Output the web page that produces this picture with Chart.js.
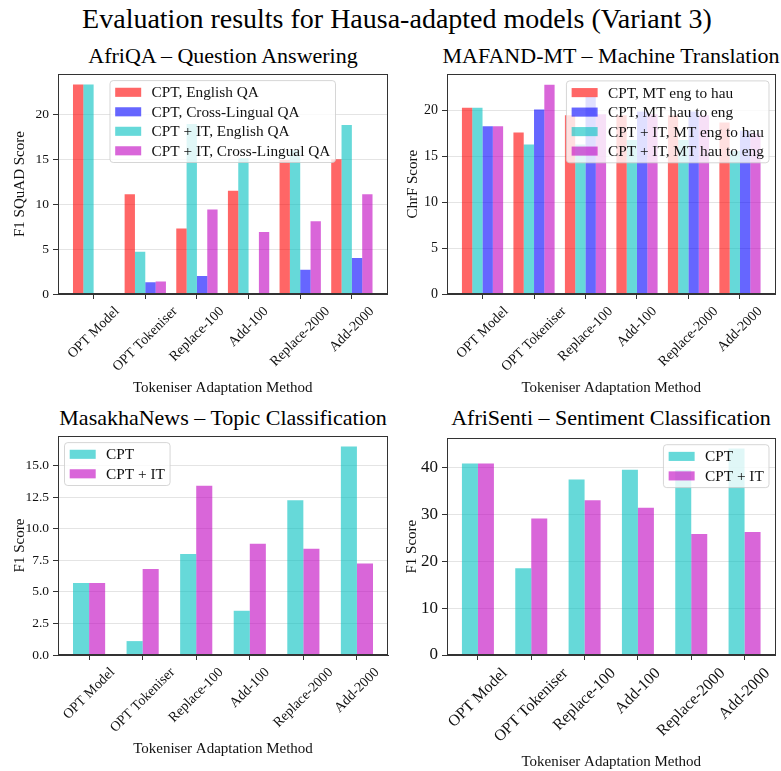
<!DOCTYPE html>
<html>
<head>
<meta charset="utf-8">
<script src="https://cdn.jsdelivr.net/npm/chart.js@4.4.1/dist/chart.umd.min.js"></script>
<style>
  html, body { margin: 0; padding: 0; background: #fff; }
  #fig { position: relative; width: 781px; height: 771px; overflow: hidden;
         font-family: 'Liberation Serif', 'Times New Roman', serif; color: #000; }
  #fig canvas { position: absolute; }
  .ttl { position: absolute; white-space: nowrap; line-height: 1;
         transform: translate(-50%, -50%); }
</style>
</head>
<body>
<div id="fig">
  <div class="ttl" style="left:397px; top:19px; font-size:28px;">Evaluation results for Hausa-adapted models (Variant 3)</div>
  <div class="ttl" style="left:223px; top:56px; font-size:22px;">AfriQA – Question Answering</div>
  <div class="ttl" style="left:611px; top:56px; font-size:22px;">MAFAND-MT – Machine Translation</div>
  <div class="ttl" style="left:223px; top:418px; font-size:22px;">MasakhaNews – Topic Classification</div>
  <div class="ttl" style="left:611px; top:418px; font-size:22px;">AfriSenti – Sentiment Classification</div>
  <canvas id="qa"    width="390" height="340" style="left:0px;   top:62px;"></canvas>
  <canvas id="mt"    width="391" height="340" style="left:390px; top:62px;"></canvas>
  <canvas id="news"  width="390" height="347" style="left:0px;   top:424px;"></canvas>
  <canvas id="senti" width="391" height="347" style="left:390px; top:424px;"></canvas>
</div>
<script>
// Tokeniser adaptation methods (x categories shared by all panels)
const methods = ['OPT Model', 'OPT Tokeniser', 'Replace-100', 'Add-100', 'Replace-2000', 'Add-2000'];

// AfriQA – F1 SQuAD score
const qaCptEnglish = [23.3, 11.1, 7.3, 11.5, 14.9, 15.0];
const qaCptCross   = [0.1, 1.3, 2.0, 0.1, 2.7, 4.0];
const qaItEnglish  = [23.3, 4.7, 18.9, 15.1, 16.0, 18.8];
const qaItCross    = [0.1, 1.4, 9.4, 6.9, 8.1, 11.1];

// MAFAND-MT – ChrF score
const mtCptEngHau = [20.3, 17.6, 19.5, 19.5, 19.5, 18.7];
const mtCptHauEng = [18.3, 20.1, 21.5, 19.9, 19.9, 17.8];
const mtItEngHau  = [20.3, 16.3, 16.3, 16.8, 16.8, 15.6];
const mtItHauEng  = [18.3, 22.8, 19.6, 19.6, 19.5, 17.5];

// MasakhaNews – F1 score
const newsCpt = [5.7, 1.1, 8.0, 3.5, 12.25, 16.5];
const newsIt  = [5.7, 6.8, 13.4, 8.8, 8.4, 7.25];

// AfriSenti – F1 score
const sentiCpt = [40.8, 18.5, 37.4, 39.5, 39.4, 44.0];
const sentiIt  = [40.8, 29.1, 33.0, 31.4, 25.8, 26.2];

// y tick values per panel
const qaTicks    = [0, 5, 10, 15, 20];
const mtTicks    = [0, 5, 10, 15, 20];
const newsTicks  = [0, 2.5, 5, 7.5, 10, 12.5, 15];
const sentiTicks = [0, 10, 20, 30, 40];

const RED = 'rgba(255,0,0,0.6)', BLUE = 'rgba(0,0,255,0.6)',
      CYAN = 'rgba(0,191,191,0.6)', MAGENTA = 'rgba(191,0,191,0.6)';
const FONT = "'Liberation Serif', 'Times New Roman', serif";
const INK = '#111';
const SPINE = '#333';

Chart.defaults.font.family = FONT;
Chart.defaults.color = INK;

// Box around the plotting area, drawn over the bars
const frame = {
  id: 'frame',
  afterDatasetsDraw(chart) {
    const a = chart.chartArea, ctx = chart.ctx;
    ctx.save();
    ctx.strokeStyle = SPINE; ctx.lineWidth = 1;
    const l = Math.round(a.left) + 0.5, t = Math.round(a.top) + 0.5;
    const r = Math.round(a.right) - 0.5, b = Math.round(a.bottom) - 0.5;
    ctx.strokeRect(l, t, r - l, b - t);
    ctx.restore();
  }
};

// Legend box placed inside the plotting area
const insetLegend = {
  id: 'insetLegend',
  afterDatasetsDraw(chart, args, o) {
    const ctx = chart.ctx, a = chart.chartArea;
    const em = o.em, fs = o.fontSize;
    const items = o.order.map(i => chart.data.datasets[i]);
    ctx.save();
    ctx.font = fs + 'px ' + FONT;
    const pad = 0.4 * em, hl = 2 * em, hh = 0.7 * em, htp = 0.8 * em,
          rowH = em, gap = 0.5 * em, bap = 0.5 * em;
    const tw = Math.max(...items.map(d => ctx.measureText(d.label).width));
    const w = pad * 2 + hl + htp + tw;
    const h = pad * 2 + items.length * rowH + (items.length - 1) * gap;
    let x;
    if (o.loc === 'upper right') x = a.right - bap - w;
    else if (o.loc === 'upper left') x = a.left + bap;
    else x = (a.left + a.right) / 2 - w / 2;
    const y = a.top + bap;
    ctx.beginPath();
    ctx.roundRect(x, y, w, h, 0.25 * em);
    ctx.fillStyle = 'rgba(255,255,255,0.8)';
    ctx.fill();
    ctx.strokeStyle = 'rgba(204,204,204,0.8)';
    ctx.lineWidth = 1;
    ctx.stroke();
    items.forEach((d, k) => {
      const cy = y + pad + k * (rowH + gap) + rowH / 2;
      ctx.fillStyle = d.backgroundColor;
      ctx.fillRect(x + pad, cy - hh / 2, hl, hh);
      ctx.fillStyle = INK;
      ctx.textAlign = 'left';
      ctx.textBaseline = 'middle';
      ctx.fillText(d.label, x + pad + hl + htp, cy + 1);
    });
    ctx.restore();
  }
};

// Category names under the x axis, slanted 45 degrees and centred on each tick
const slantLabels = {
  id: 'slantLabels',
  afterDraw(chart, args, o) {
    const sx = chart.scales.x, ctx = chart.ctx, a = chart.chartArea;
    ctx.save();
    ctx.font = o.fontSize + 'px ' + FONT;
    ctx.fillStyle = INK;
    ctx.textAlign = 'center';
    ctx.textBaseline = 'middle';
    const top = a.bottom + o.offset;
    sx.ticks.forEach(t => {
      const label = methods[t.value];
      const w = ctx.measureText(label).width, h = o.fontSize * 1.05;
      const half = (w + h) * Math.SQRT1_2 / 2;
      ctx.save();
      ctx.translate(sx.getPixelForValue(t.value), top + half);
      ctx.rotate(-Math.PI / 4);
      ctx.fillText(label, 0, 0);
      ctx.restore();
    });
    ctx.restore();
  }
};

function panel(id, cfg) {
  const n = methods.length;
  const groupHalf = cfg.groupWidth / 2;
  const margin = 0.05 * ((n - 1) + cfg.groupWidth);
  const top = 1.05 * Math.max(...cfg.series.flatMap(s => s.values));
  const datasets = cfg.series.map(s => ({
    label: s.label,
    data: s.values.map((v, i) => ({ x: i, y: v })),
    backgroundColor: s.color,
    borderWidth: 0,
    categoryPercentage: cfg.groupWidth,
    barPercentage: 1.0
  }));
  return new Chart(document.getElementById(id), {
    type: 'bar',
    data: { datasets },
    options: {
      responsive: false,
      animation: false,
      devicePixelRatio: 1,
      layout: { padding: cfg.padding },
      plugins: {
        legend: { display: false },
        tooltip: { enabled: false },
        insetLegend: { loc: cfg.legendLoc, order: cfg.legendOrder, em: 13, fontSize: 15.3 },
        slantLabels: { fontSize: cfg.xFont, offset: 10 }
      },
      scales: {
        x: {
          type: 'linear',
          bounds: 'data',
          offset: false,
          min: -groupHalf - margin,
          max: (n - 1) + groupHalf + margin,
          afterBuildTicks: s => { s.ticks = methods.map((_, i) => ({ value: i })); },
          ticks: { display: false },
          grid: { offset: false, drawOnChartArea: false, drawTicks: true, tickLength: 5, tickColor: SPINE },
          border: { display: true, color: SPINE },
          title: { display: true, text: 'Tokeniser Adaptation Method',
                   font: { size: 15, lineHeight: 1.2 }, color: INK,
                   padding: { top: 0, bottom: cfg.xTitlePad } },
          afterFit: s => { s.height = cfg.xAxisHeight; }
        },
        y: {
          min: 0,
          max: top,
          afterBuildTicks: s => { s.ticks = cfg.yTicks.map(v => ({ value: v })); },
          ticks: { font: { size: cfg.yFont }, color: INK, padding: 4,
                   callback: v => cfg.decimals ? v.toFixed(cfg.decimals) : String(v) },
          grid: { color: '#e4e4e4', lineWidth: 1, tickLength: 5, tickColor: SPINE },
          border: { display: true, color: SPINE },
          title: { display: true, text: cfg.yTitle,
                   font: { size: 15, lineHeight: 1.2 }, color: INK,
                   padding: { top: cfg.yTitlePad, bottom: 0 } },
          afterFit: s => { s.width = cfg.yAxisWidth; }
        }
      }
    },
    plugins: [frame, insetLegend, slantLabels]
  });
}

panel('qa', {
  series: [
    { label: 'CPT, English QA', values: qaCptEnglish, color: RED },
    { label: 'CPT + IT, English QA', values: qaItEnglish, color: CYAN },
    { label: 'CPT, Cross-Lingual QA', values: qaCptCross, color: BLUE },
    { label: 'CPT + IT, Cross-Lingual QA', values: qaItCross, color: MAGENTA }
  ],
  legendOrder: [0, 2, 1, 3], legendLoc: 'upper center',
  groupWidth: 0.8, yTicks: qaTicks, yTitle: 'F1 SQuAD Score',
  padding: { top: 9, left: 0, right: 2.5, bottom: 0 },
  yAxisWidth: 58, xAxisHeight: 108, xTitlePad: 5, yTitlePad: 11,
  xFont: 14, yFont: 13.5
});

panel('mt', {
  series: [
    { label: 'CPT, MT eng to hau', values: mtCptEngHau, color: RED },
    { label: 'CPT + IT, MT eng to hau', values: mtItEngHau, color: CYAN },
    { label: 'CPT, MT hau to eng', values: mtCptHauEng, color: BLUE },
    { label: 'CPT + IT, MT hau to eng', values: mtItHauEng, color: MAGENTA }
  ],
  legendOrder: [0, 2, 1, 3], legendLoc: 'upper right',
  groupWidth: 0.8, yTicks: mtTicks, yTitle: 'ChrF Score',
  padding: { top: 9, left: 0, right: 5.5, bottom: 0 },
  yAxisWidth: 57, xAxisHeight: 108, xTitlePad: 5, yTitlePad: 14,
  xFont: 14, yFont: 14
});

panel('news', {
  series: [
    { label: 'CPT', values: newsCpt, color: CYAN },
    { label: 'CPT + IT', values: newsIt, color: MAGENTA }
  ],
  legendOrder: [0, 1], legendLoc: 'upper left',
  groupWidth: 0.6, yTicks: newsTicks, decimals: 1, yTitle: 'F1 Score',
  padding: { top: 9, left: 0, right: 2, bottom: 0 },
  yAxisWidth: 58, xAxisHeight: 116, xTitlePad: 13, yTitlePad: 11,
  xFont: 14, yFont: 13.5
});

panel('senti', {
  series: [
    { label: 'CPT', values: sentiCpt, color: CYAN },
    { label: 'CPT + IT', values: sentiIt, color: MAGENTA }
  ],
  legendOrder: [0, 1], legendLoc: 'upper right',
  groupWidth: 0.6, yTicks: sentiTicks, yTitle: 'F1 Score',
  padding: { top: 9, left: 0, right: 5.5, bottom: 0 },
  yAxisWidth: 57, xAxisHeight: 116, xTitlePad: 0, yTitlePad: 13,
  xFont: 16, yFont: 17
});
</script>
</body>
</html>
